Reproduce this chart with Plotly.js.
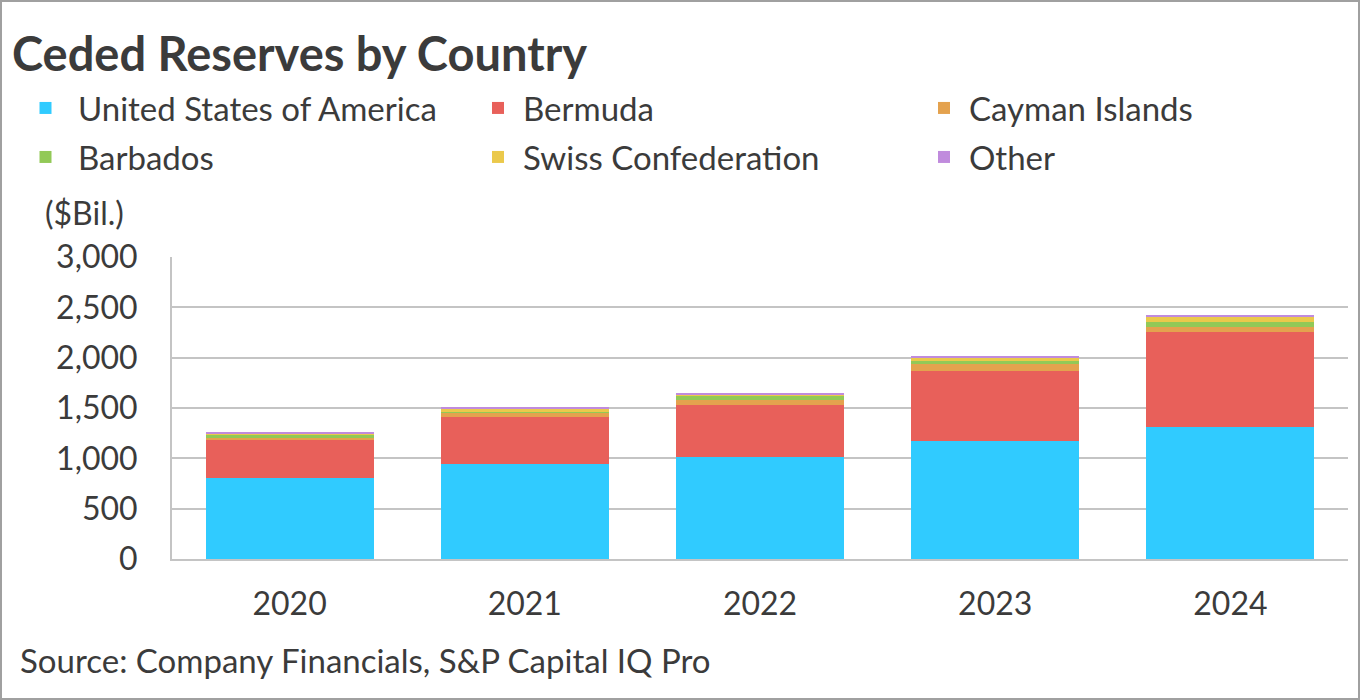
<!DOCTYPE html>
<html>
<head>
<meta charset="utf-8">
<script src="https://cdn.plot.ly/plotly-3.0.1.min.js"></script>
<style>
html,body{margin:0;padding:0;background:#fff;}
#wrap{position:relative;width:1360px;height:700px;}
#chart{width:1360px;height:700px;}
#frame{position:absolute;left:0;top:0;width:1360px;height:700px;box-sizing:border-box;border:2px solid #a0a0a0;pointer-events:none;}
</style>
</head>
<body>
<div id="wrap"><div id="chart"></div><div id="frame"></div></div>
<script>
const years = ['2020', '2021', '2022', '2023', '2024'];
const usa = [801, 941, 1012, 1172, 1311];
const bermuda = [378, 465, 517, 695, 940];
const cayman = [26, 49, 50, 69, 50];
const barbados = [27, 10, 40, 33, 53];
const swiss = [13, 33, 20, 34, 50];
const other = [10, 12, 13, 13, 20];
const yTicks = [0, 500, 1000, 1500, 2000, 2500, 3000];

const FONT = 'Lato, "Open Sans", sans-serif';
const TXT = '#3b3b3b';

function bar(name, vals, color, legend) {
  return {
    type: 'bar', name: name, x: years, y: vals,
    marker: {color: color, line: {width: 0}},
    legend: legend, hoverinfo: 'name+y'
  };
}

const data = [
  bar('United States of America', usa, '#30CBFF', 'legend'),
  bar('Bermuda', bermuda, '#E8605A', 'legend2'),
  bar('Cayman Islands', cayman, '#E4A24E', 'legend3'),
  bar('Barbados', barbados, '#92C957', 'legend4'),
  bar('Swiss Confederation', swiss, '#EBC94B', 'legend5'),
  bar('Other', other, '#C08BDD', 'legend6')
];

const L = 172, R = 12, T = 257, B = 141;
const PW = 1360 - L - R, PH = 700 - T - B;
function px2x(px) { return (px - L) / PW; }
function py2y(py) { return (700 - B - py) / PH; }

// textStart: pixel where the entry text begins; iw: symbol area width
function leg(textStart, py, iw) {
  return {
    orientation: 'h', xanchor: 'left', yanchor: 'middle',
    x: px2x(textStart - iw - 10), y: py2y(py),
    font: {family: FONT, size: 33, color: TXT},
    itemwidth: iw,
    bgcolor: 'rgba(0,0,0,0)', borderwidth: 0,
    itemclick: false, itemdoubleclick: false
  };
}

const layout = {
  width: 1360, height: 700,
  margin: {l: L, r: R, t: T, b: B, pad: 0},
  paper_bgcolor: '#fff', plot_bgcolor: '#fff',
  barmode: 'stack', bargap: 0.286,
  font: {family: FONT, color: TXT},
  title: {
    text: '<b>Ceded Reserves by Country</b>',
    font: {family: FONT, size: 47, color: TXT},
    xref: 'container', yref: 'container',
    x: 12 / 1360, xanchor: 'left', y: 1 - 55 / 700, yanchor: 'middle'
  },
  showlegend: true,
  legend: leg(78, 108, 55),
  legend2: leg(523, 108, 40),
  legend3: leg(969, 108, 40),
  legend4: leg(78, 157, 55),
  legend5: leg(523, 157, 40),
  legend6: leg(969, 157, 40),
  xaxis: {
    type: 'category', showgrid: false, zeroline: false,
    showline: true, linecolor: '#c4c4c4', linewidth: 2,
    ticks: '', ticklabelstandoff: 16,
    tickfont: {family: FONT, size: 32, color: TXT}
  },
  yaxis: {
    range: [0, 3000], tickvals: yTicks, tickformat: ',d',
    showgrid: true, gridcolor: '#c4c4c4', gridwidth: 2,
    zeroline: false, showline: true, linecolor: '#c4c4c4', linewidth: 2,
    ticks: '', ticklabelstandoff: 26,
    tickfont: {family: FONT, size: 32, color: TXT}
  },
  annotations: [
    {text: '($Bil.)', xref: 'paper', yref: 'paper', x: px2x(43), y: py2y(212),
     xanchor: 'left', yanchor: 'middle', showarrow: false,
     font: {family: FONT, size: 32, color: TXT}},
    {text: 'Source: Company Financials, S&amp;P Capital IQ Pro', xref: 'paper', yref: 'paper',
     x: px2x(18), y: py2y(660), xanchor: 'left', yanchor: 'middle', showarrow: false,
     font: {family: FONT, size: 33, color: TXT}}
  ]
};

Plotly.newPlot('chart', data, layout, {displayModeBar: false});
</script>
</body>
</html>
